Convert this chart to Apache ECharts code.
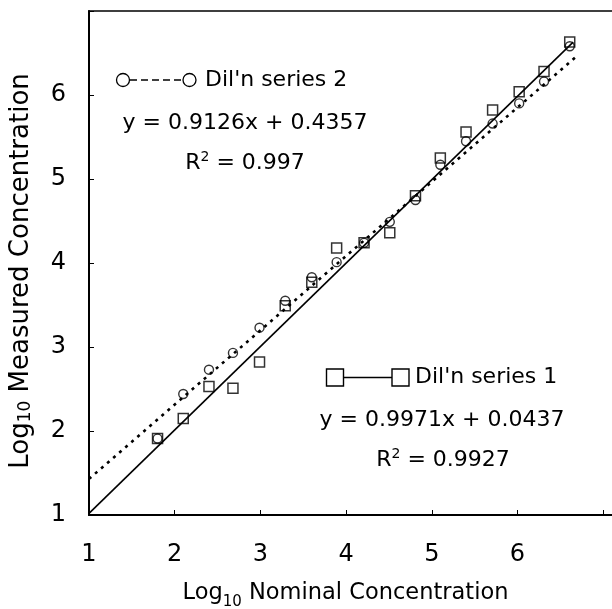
<!DOCTYPE html>
<html><head><meta charset="utf-8">
<script src="https://cdn.jsdelivr.net/npm/echarts@6/dist/echarts.min.js"></script>
<style>html,body{margin:0;padding:0;background:#fff}#c{width:612px;height:609px}</style>
</head><body><div id="c"></div>
<script>
// ---- data ----
const nominal = [1.80, 2.10, 2.40, 2.68, 2.99, 3.29, 3.60, 3.89, 4.21, 4.51, 4.81, 5.10, 5.40, 5.71, 6.02, 6.31, 6.61];
const series1Measured = [1.91, 2.15, 2.53, 2.51, 2.82, 3.49, 3.77, 4.18, 4.24, 4.36, 4.80, 5.25, 5.56, 5.82, 6.04, 6.28, 6.63];
const series2Measured = [1.91, 2.44, 2.73, 2.93, 3.23, 3.55, 3.83, 4.01, 4.24, 4.49, 4.75, 5.17, 5.45, 5.66, 5.90, 6.16, 6.58];
const trend1X = [1.00, 6.65];
const trend1Y = [1.02, 6.63];
const trend2X = [1.00, 6.70];
const trend2Y = [1.43, 6.47];
const xTickLabels = [1, 2, 3, 4, 5, 6];
const yTickLabels = [1, 2, 3, 4, 5, 6];
const series1Name = "Dil'n series 1";
const series2Name = "Dil'n series 2";
const eq1 = 'y = 0.9971x + 0.0437';
const r1 = '0.9927';
const eq2 = 'y = 0.9126x + 0.4357';
const r2 = '0.997';

const FONT = 'DejaVu Sans';
const pts1 = nominal.map((x, i) => [x, series1Measured[i]]);
const pts2 = nominal.map((x, i) => [x, series2Measured[i]]);
const t1 = trend1X.map((x, i) => [x, trend1Y[i]]);
const t2 = trend2X.map((x, i) => [x, trend2Y[i]]);

const chart = echarts.init(document.getElementById('c'), null, {renderer: 'canvas'});
const supRich = {
  a: {fontFamily: FONT, fontSize: 22, color: '#000', lineHeight: 26},
  s: {fontFamily: FONT, fontSize: 14, color: '#000', lineHeight: 26, verticalAlign: 'top'}
};
chart.setOption({
  animation: false,
  backgroundColor: '#fff',
  grid: {left: 89, top: 11, width: 527, height: 504, outerBoundsMode: 'none', containLabel: false,
    show: true, borderColor: '#000', borderWidth: 1.5, backgroundColor: 'transparent'},
  xAxis: {
    type: 'value', min: 1, max: 7.15, interval: 1,
    axisLine: {show: true, onZero: false, lineStyle: {color: '#000', width: 2}},
    axisTick: {show: true, inside: true, length: 5, lineStyle: {color: '#000', width: 1}},
    axisLabel: {margin: 28, fontSize: 24, fontFamily: FONT, color: '#000',
      formatter: v => xTickLabels.includes(Math.round(v * 100) / 100) ? String(v) : ''},
    splitLine: {show: false},
    name: '{a|Log}{s|10}{a| Nominal Concentration}',
    nameLocation: 'middle', nameGap: 67,
    nameTextStyle: {padding: [0, 14, 0, 0], rich: {
      a: {fontFamily: FONT, fontSize: 22.5, color: '#000', lineHeight: 28, verticalAlign: 'top'},
      s: {fontFamily: FONT, fontSize: 15, color: '#000', lineHeight: 16, verticalAlign: 'bottom'}
    }}
  },
  yAxis: {
    type: 'value', min: 1, max: 7, interval: 1,
    axisLine: {show: true, onZero: false, lineStyle: {color: '#000', width: 2}},
    axisTick: {show: true, inside: true, length: 5, lineStyle: {color: '#000', width: 1}},
    axisLabel: {margin: 23, fontSize: 24, fontFamily: FONT, color: '#000',
      formatter: v => yTickLabels.includes(Math.round(v * 100) / 100) ? String(v) : ''},
    splitLine: {show: false},
    name: '{a|Log}{s|10}{a| Measured Concentration}',
    nameLocation: 'middle', nameGap: 55, nameRotate: 90,
    nameTextStyle: {padding: [0, 16, 0, 0], rich: {
      a: {fontFamily: FONT, fontSize: 26, color: '#000', lineHeight: 26},
      s: {fontFamily: FONT, fontSize: 17, color: '#000', lineHeight: 22, verticalAlign: 'bottom'}
    }}
  },
  series: [
    {name: series1Name + ' trend', type: 'line', data: t1, symbol: 'none', silent: true,
      lineStyle: {color: '#000', width: 1.6}, z: 2},
    {name: series2Name + ' trend', type: 'line', data: t2, symbol: 'none', silent: true,
      lineStyle: {color: '#000', width: 2.6, type: [3, 5]}, z: 2},
    {name: series1Name, type: 'scatter', data: pts1, symbol: 'rect', symbolSize: 10,
      itemStyle: {color: 'rgba(255,255,255,0)', borderColor: '#000', borderWidth: 1.5}, z: 3},
    {name: series2Name, type: 'scatter', data: pts2, symbol: 'circle', symbolSize: 9,
      itemStyle: {color: 'rgba(255,255,255,0)', borderColor: '#000', borderWidth: 1.4}, z: 3}
  ],
  graphic: [
    // legend for series 2
    {type: 'line', shape: {x1: 130, y1: 80, x2: 183, y2: 80}, style: {stroke: '#000', lineWidth: 1.3, lineDash: [7, 4]}},
    {type: 'circle', shape: {cx: 123, cy: 80, r: 6.5}, style: {fill: '#fff', stroke: '#000', lineWidth: 1.3}},
    {type: 'circle', shape: {cx: 189.5, cy: 80, r: 6.5}, style: {fill: '#fff', stroke: '#000', lineWidth: 1.3}},
    {type: 'text', x: 205, y: 80, style: {text: series2Name, font: '22px "DejaVu Sans"', fill: '#000', verticalAlign: 'middle', align: 'left'}},
    {type: 'text', x: 245, y: 123, style: {text: eq2, font: '22px "DejaVu Sans"', fill: '#000', verticalAlign: 'middle', align: 'center'}},
    {type: 'text', x: 245, y: 163, style: {text: '{a|R}{s|2}{a| = ' + r2 + '}', rich: supRich, verticalAlign: 'middle', align: 'center'}},
    // legend for series 1
    {type: 'line', shape: {x1: 343, y1: 377.5, x2: 392, y2: 377.5}, style: {stroke: '#000', lineWidth: 1.3}},
    {type: 'rect', shape: {x: 326.5, y: 369, width: 17, height: 17}, style: {fill: '#fff', stroke: '#000', lineWidth: 1.4}},
    {type: 'rect', shape: {x: 392, y: 369, width: 17, height: 17}, style: {fill: '#fff', stroke: '#000', lineWidth: 1.4}},
    {type: 'text', x: 415, y: 377.5, style: {text: series1Name, font: '22px "DejaVu Sans"', fill: '#000', verticalAlign: 'middle', align: 'left'}},
    {type: 'text', x: 442, y: 420, style: {text: eq1, font: '22px "DejaVu Sans"', fill: '#000', verticalAlign: 'middle', align: 'center'}},
    {type: 'text', x: 443, y: 460, style: {text: '{a|R}{s|2}{a| = ' + r1 + '}', rich: supRich, verticalAlign: 'middle', align: 'center'}}
  ]
});
</script>
</body></html>
